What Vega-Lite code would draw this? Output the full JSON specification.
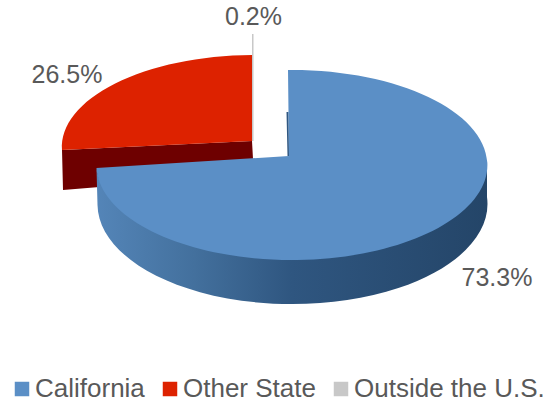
{"$schema":"https://vega.github.io/schema/vega-lite/v6.json","width":555,"height":404,"padding":0,"autosize":"none","background":"white","config":{"view":{"stroke":null}},"resolve":{"legend":{"color":"independent"}},"data":{"values":[{"segment":"California","share":0.733},{"segment":"Other State","share":0.265},{"segment":"Outside the U.S.","share":0.002}]},"encoding":{"color":{"field":"segment","type":"nominal","scale":{"domain":["California","Other State","Outside the U.S."],"range":["#5b8fc6","#dd2200","#c8c8c8"]},"legend":null}},"layer":[{"transform":[{"filter":"datum.segment==='Other State'"}],"mark":{"type":"point","filled":true,"size":4,"opacity":1,"fill":"#6e0000","shape":"M -215.5 -52 L -25.5 -61 L -24.5 -43 L -178 -32 L -178 -15 L -214.5 -12 Z"},"encoding":{"color":{"value":"#6e0000"}}},{"transform":[{"filter":"datum.segment==='California'"}],"mark":{"type":"point","filled":true,"size":4,"opacity":1,"shape":"M 209.5 -37 A 195.5 95 0 0 1 -181 -34 L -180 3 A 195 100 0 1 0 209.5 -5 Z M 9 -90 L 11 -90 L 11.5 -46 L 10 -46 Z","fill":{"gradient":"linear","x1":0,"x2":1,"y1":0,"y2":0,"stops":[{"offset":0,"color":"#5485b8"},{"offset":0.25,"color":"#43709d"},{"offset":0.5,"color":"#2f5680"},{"offset":1,"color":"#244568"}]}},"encoding":{"color":{}}},{"transform":[{"filter":"datum.segment==='Outside the U.S.'"}],"mark":{"type":"point","filled":true,"size":4,"opacity":1,"shape":"M -25.5 -168 L -24 -168 L -24 -61 L -25.5 -61 Z"}},{"transform":[{"filter":"datum.segment==='Other State'"}],"mark":{"type":"point","filled":true,"size":4,"opacity":1,"shape":"M -25.5 -61 L -25.5 -147 A 193 92 0 0 0 -215.5 -52 Z"}},{"transform":[{"filter":"datum.segment==='California'"}],"mark":{"type":"point","filled":true,"size":4,"opacity":1,"shape":"M 11.5 -46 L 10.5 -132 A 195.5 95 0 1 1 -181 -34 Z"}},{"mark":{"type":"point","filled":true,"size":0,"shape":"square"},"encoding":{"color":{"field":"segment","type":"nominal","scale":{"domain":["California","Other State","Outside the U.S."],"range":["#5b8fc6","#dd2200","#c8c8c8"]},"legend":{"orient":"none","legendX":9,"legendY":376,"padding":0,"direction":"horizontal","columns":3,"title":null,"symbolType":"square","symbolSize":210,"symbolOpacity":1,"symbolStrokeWidth":0,"labelFont":"Liberation Sans","labelFontSize":26,"labelColor":"#595959","labelOffset":0,"labelLimit":300,"columnPadding":12}}}},{"mark":{"type":"text","font":"Liberation Sans","fontSize":25,"color":"#595959","align":"center","baseline":"middle"},"encoding":{"color":{"value":"#595959"},"x":{"field":"share","type":"quantitative","axis":null,"scale":{"domain":[0.002,0.265,0.733],"range":[253.5,67,497],"zero":false,"nice":false}},"y":{"field":"share","type":"quantitative","axis":null,"scale":{"domain":[0.002,0.265,0.733],"range":[17,75,278],"zero":false,"nice":false}},"text":{"field":"share","type":"quantitative","format":".1%"}}}]}
